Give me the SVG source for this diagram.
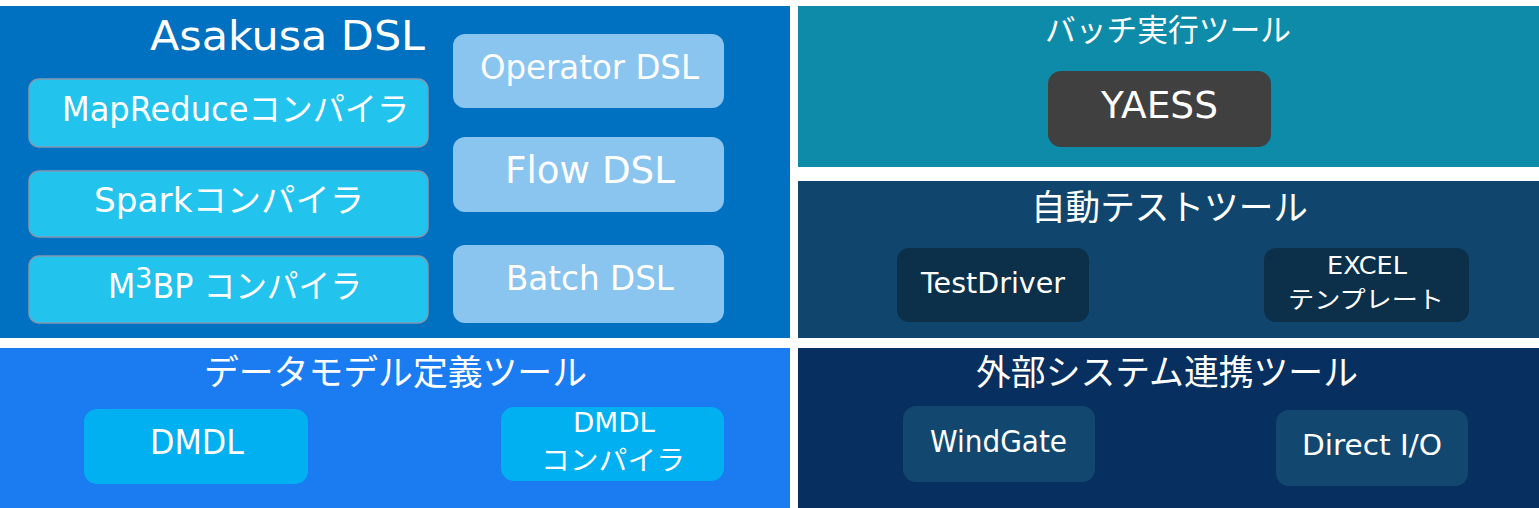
<svg xmlns="http://www.w3.org/2000/svg" width="1539" height="508" viewBox="0 0 1539 508">
<style>
text{font-family:"DejaVu Sans","Noto Sans CJK JP",sans-serif;fill:#ffffff;}
.jp{font-family:"Noto Sans CJK JP","DejaVu Sans",sans-serif;}
.comp{fill:#22C4EE;stroke:#8497B0;stroke-width:1.5;}
.dsl{fill:#89C5EF;}
.yaess{fill:#404040;}
.test{fill:#0C2F4A;}
.dmdl{fill:#00B0F0;}
.ext{fill:#124870;}
</style>
<rect x="0" y="0" width="1539" height="508" fill="#ffffff"/>
<g id="panels">
<rect id="panel-asakusa" x="0" y="6" width="790" height="332" fill="#0070C0"/>
<rect id="panel-batch" x="798" y="6" width="741" height="161" fill="#0E8BA8"/>
<rect id="panel-test" x="798" y="181" width="741" height="157" fill="#10466E"/>
<rect id="panel-dmdl" x="0" y="348" width="790" height="160" fill="#1A7CF0"/>
<rect id="panel-ext" x="798" y="348" width="741" height="160" fill="#072F5F"/>
</g>
<g id="titles">
<text x="150" y="50" font-size="41" textLength="275" lengthAdjust="spacingAndGlyphs">Asakusa DSL</text>
<text class="jp" x="1045" y="41" font-size="31" textLength="246" lengthAdjust="spacingAndGlyphs">バッチ実行ツール</text>
<text class="jp" x="1031" y="220" font-size="35" textLength="277" lengthAdjust="spacingAndGlyphs">自動テストツール</text>
<text class="jp" x="204" y="385" font-size="35" textLength="383" lengthAdjust="spacingAndGlyphs">データモデル定義ツール</text>
<text class="jp" x="976" y="385" font-size="35" textLength="382" lengthAdjust="spacingAndGlyphs">外部システム連携ツール</text>
</g>
<g id="node-mapreduce">
<rect class="comp" x="29" y="79" width="399" height="68" rx="10"/>
<text x="62" y="121" font-size="33" textLength="347" lengthAdjust="spacingAndGlyphs">MapReduceコンパイラ</text>
</g>
<g id="node-spark">
<rect class="comp" x="29" y="171" width="399" height="66" rx="10"/>
<text x="94" y="212" font-size="33" textLength="270" lengthAdjust="spacingAndGlyphs">Sparkコンパイラ</text>
</g>
<g id="node-m3bp">
<rect class="comp" x="29" y="256" width="399" height="67" rx="10"/>
<text x="108" y="298" font-size="33" textLength="254" lengthAdjust="spacingAndGlyphs">M<tspan font-size="28" dy="-10">3</tspan><tspan dy="10">BP コンパイラ</tspan></text>
</g>
<g id="node-operator">
<rect class="dsl" x="453" y="34" width="271" height="74" rx="12"/>
<text x="480" y="79" font-size="33" textLength="219" lengthAdjust="spacingAndGlyphs">Operator DSL</text>
</g>
<g id="node-flow">
<rect class="dsl" x="453" y="137" width="271" height="75" rx="12"/>
<text x="505" y="183" font-size="37" textLength="170" lengthAdjust="spacingAndGlyphs">Flow DSL</text>
</g>
<g id="node-batch">
<rect class="dsl" x="453" y="245" width="271" height="78" rx="12"/>
<text x="506" y="290" font-size="33" textLength="168" lengthAdjust="spacingAndGlyphs">Batch DSL</text>
</g>
<g id="node-yaess">
<rect class="yaess" x="1048" y="71" width="223" height="76" rx="13"/>
<text x="1101" y="118" font-size="38" textLength="117" lengthAdjust="spacingAndGlyphs">YAESS</text>
</g>
<g id="node-testdriver">
<rect class="test" x="897" y="248" width="192" height="74" rx="12"/>
<text x="921" y="293" font-size="28" textLength="144" lengthAdjust="spacingAndGlyphs">TestDriver</text>
</g>
<g id="node-excel">
<rect class="test" x="1264" y="248" width="205" height="74" rx="12"/>
<text x="1327" y="274" font-size="25" textLength="80" lengthAdjust="spacingAndGlyphs">EXCEL</text>
<text class="jp" x="1288" y="308" font-size="24" textLength="156" lengthAdjust="spacingAndGlyphs">テンプレート</text>
</g>
<g id="node-dmdl">
<rect class="dmdl" x="84" y="409" width="224" height="75" rx="13"/>
<text x="150" y="454" font-size="33" textLength="94" lengthAdjust="spacingAndGlyphs">DMDL</text>
</g>
<g id="node-dmdl-compiler">
<rect class="dmdl" x="501" y="407" width="223" height="74" rx="13"/>
<text x="573" y="432" font-size="27" textLength="82" lengthAdjust="spacingAndGlyphs">DMDL</text>
<text class="jp" x="541" y="470" font-size="27" textLength="144" lengthAdjust="spacingAndGlyphs">コンパイラ</text>
</g>
<g id="node-windgate">
<rect class="ext" x="903" y="406" width="192" height="76" rx="13"/>
<text x="930" y="452" font-size="30" textLength="137" lengthAdjust="spacingAndGlyphs">WindGate</text>
</g>
<g id="node-directio">
<rect class="ext" x="1276" y="410" width="192" height="76" rx="13"/>
<text x="1302" y="455" font-size="28" textLength="140" lengthAdjust="spacingAndGlyphs">Direct I/O</text>
</g>
<g id="connectors"></g>
</svg>
